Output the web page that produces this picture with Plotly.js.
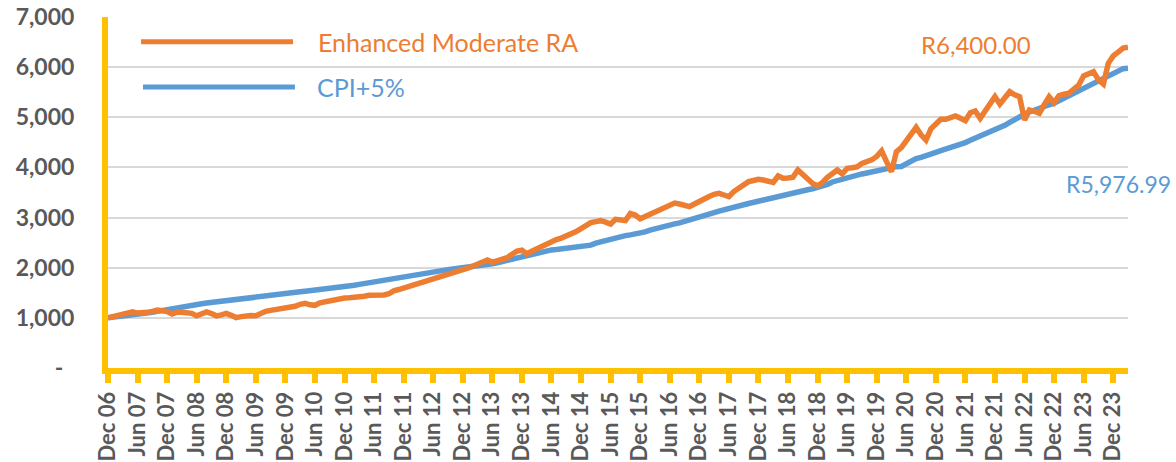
<!DOCTYPE html>
<html>
<head>
<meta charset="utf-8">
<script src="https://cdn.plot.ly/plotly-3.0.1.min.js"></script>
<style>html,body{margin:0;padding:0;background:#fff;}#chart{width:1176px;height:462px;}</style>
</head>
<body>
<div id="chart"></div>
<script>
// Series labels
const seriesNames = ["Enhanced Moderate RA", "CPI+5%"];
const endLabels = ["R6,400.00", "R5,976.99"];

// Monthly values, Dec 2006 .. Mar 2024
const enhancedModerateRA = [
1000,1020,1040,1060,1100,1120,1095,1090,1110,1130,1155,1140,
1125,1075,1115,1110,1105,1090,1040,1080,1120,1085,1040,1060,
1090,1050,1005,1025,1043,1045,1043,1090,1130,1150,1165,1175,
1185,1195,1230,1270,1290,1260,1250,1300,1323,1350,1376,1385,
1395,1400,1405,1410,1430,1450,1445,1450,1455,1480,1540,1565,
1595,1620,1650,1680,1705,1740,1780,1815,1842,1860,1885,1910,
1960,1990,2030,2074,2120,2154,2108,2130,2154,2200,2268,2330,
2350,2274,2330,2380,2420,2460,2520,2560,2590,2630,2680,2720,
2780,2850,2898,2920,2938,2910,2872,2965,2950,2940,3080,3050,
2975,3020,3080,3118,3160,3205,3250,3290,3270,3240,3218,3270,
3330,3380,3420,3464,3484,3450,3417,3520,3580,3650,3716,3740,
3763,3750,3730,3703,3829,3783,3790,3803,3949,3850,3763,3680,
3635,3700,3803,3880,3949,3869,3983,3995,4010,4080,4115,4150,
4220,4328,4115,3915,4314,4394,4530,4660,4800,4650,4547,4770,
4880,4960,4960,4990,5026,4980,4932,5090,5126,4980,5120,5270,
5411,5265,5400,5511,5450,5411,4946,5146,5120,5080,5250,5411,
5291,5430,5460,5478,5560,5644,5824,5880,5910,5744,5664,6077,
6223,6300,6380,6400
];
const cpiPlus5 = [
1000,1010,1018,1027,1037,1047,1057,1072,1090,1110,1130,1150,
1170,1185,1200,1218,1235,1252,1268,1283,1295,1308,1320,1330,
1340,1355,1368,1380,1395,1410,1425,1440,1455,1468,1478,1488,
1497,1505,1512,1520,1530,1540,1550,1560,1570,1580,1590,1600,
1615,1632,1650,1668,1685,1700,1718,1738,1760,1780,1800,1818,
1835,1852,1868,1885,1900,1912,1925,1938,1950,1962,1975,1985,
1995,2005,2018,2030,2045,2060,2080,2100,2125,2150,2170,2185,
2200,2240,2275,2300,2320,2340,2355,2365,2375,2385,2392,2400,
2405,2415,2450,2490,2519,2540,2565,2600,2620,2640,2655,2670,
2685,2715,2750,2780,2800,2825,2850,2875,2895,2920,2945,2970,
2995,3030,3065,3097,3130,3150,3175,3200,3225,3255,3280,3305,
3330,3355,3380,3405,3430,3455,3475,3500,3520,3537,3555,3575,
3595,3616,3660,3710,3740,3770,3795,3820,3845,3870,3890,3910,
3930,3955,3985,4012,4015,4018,4080,4145,4175,4200,4225,4260,
4300,4335,4365,4390,4414,4455,4495,4540,4580,4620,4660,4700,
4740,4781,4840,4900,4960,5013,5060,5105,5146,5180,5215,5250,
5280,5330,5380,5430,5478,5530,5585,5640,5690,5735,5780,5830,
5880,5935,5970,5977
];

// Month categories "Dec 06", "Jan 07", ...
const monthNames = ["Jan","Feb","Mar","Apr","May","Jun","Jul","Aug","Sep","Oct","Nov","Dec"];
const months = [];
for (let k = 0; k < enhancedModerateRA.length; k++) {
  const m = (11 + k) % 12;
  const yr = 2006 + Math.floor((11 + k) / 12);
  months.push(monthNames[m] + " " + String(yr % 100).padStart(2, "0"));
}
const xTickLabels = months.filter(s => s.startsWith("Dec") || s.startsWith("Jun"));

const yTickVals = [0,1000,2000,3000,4000,5000,6000,7000];
const yTickText = ["-\u00a0\u00a0","1,000","2,000","3,000","4,000","5,000","6,000","7,000"];

const ORANGE = "#ED7D31", BLUE = "#5B9BD5", YELLOW = "#FFC000", GREY = "#595959";
const FONT = "Lato, 'Open Sans', sans-serif";

const traces = [
  {x: months, y: cpiPlus5, type: "scatter", mode: "lines", name: seriesNames[1],
   line: {color: BLUE, width: 5.5}, showlegend: false, hoverinfo: "skip"},
  {x: months, y: enhancedModerateRA, type: "scatter", mode: "lines", name: seriesNames[0],
   line: {color: ORANGE, width: 5.5}, showlegend: false, hoverinfo: "skip"}
];

const layout = {
  width: 1176, height: 462,
  margin: {l: 108, r: 48, t: 17, b: 94},
  paper_bgcolor: "#ffffff", plot_bgcolor: "#ffffff",
  font: {family: FONT},
  xaxis: {
    type: "category", range: [0, months.length - 1],
    tickvals: xTickLabels, ticktext: xTickLabels, tickangle: -90,
    tickfont: {family: FONT, size: 22, color: GREY, weight: "bold"},
    showgrid: false, zeroline: false,
    showline: true, linecolor: YELLOW, linewidth: 6,
    ticks: "outside", ticklen: 9, tickwidth: 6, tickcolor: YELLOW
  },
  yaxis: {
    range: [0, 7000], tickvals: yTickVals, ticktext: yTickText,
    tickfont: {family: FONT, size: 23, color: GREY, weight: "bold"},
    showgrid: true, gridcolor: "#D9D9D9", gridwidth: 2,
    zeroline: false, showline: true, linecolor: YELLOW, linewidth: 6,
    ticks: "", ticklabelstandoff: 23
  },
  shapes: [
    {type: "line", xref: "paper", yref: "paper", x0: 0.0324, x1: 0.1814, y0: 0.9296, y1: 0.9296,
     line: {color: ORANGE, width: 5}},
    {type: "line", xref: "paper", yref: "paper", x0: 0.0343, x1: 0.1833, y0: 0.8006, y1: 0.8006,
     line: {color: BLUE, width: 5}}
  ],
  annotations: [
    {xref: "paper", yref: "paper", x: 0.2039, y: 0.9296, xanchor: "left", yanchor: "middle",
     text: seriesNames[0], showarrow: false, font: {family: FONT, size: 25, color: ORANGE}},
    {xref: "paper", yref: "paper", x: 0.2029, y: 0.8006, xanchor: "left", yanchor: "middle",
     text: seriesNames[1], showarrow: false, font: {family: FONT, size: 25, color: BLUE}},
    {xref: "paper", yref: "paper", x: 0.851, y: 0.923, xanchor: "center", yanchor: "middle",
     text: endLabels[0], showarrow: false, font: {family: FONT, size: 24, color: ORANGE}},
    {xref: "paper", yref: "paper", x: 1.0441, y: 0.524, xanchor: "right", yanchor: "middle",
     text: endLabels[1], showarrow: false, font: {family: FONT, size: 23, color: BLUE}}
  ]
};

Plotly.newPlot("chart", traces, layout, {staticPlot: true, displayModeBar: false});
</script>
</body>
</html>
